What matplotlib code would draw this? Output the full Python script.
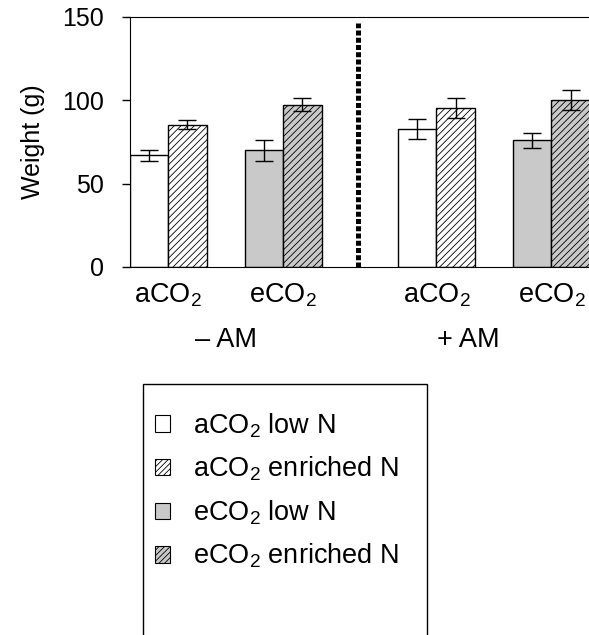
import matplotlib
matplotlib.use('Agg')
import matplotlib.pyplot as plt
import matplotlib as mpl
import matplotlib.transforms as mtransforms
from matplotlib.patches import Patch, Rectangle
import numpy as np

# data
groups = ['aCO$_2$', 'eCO$_2$', 'aCO$_2$', 'eCO$_2$']
am_labels = ['\u2013 AM', '+ AM']
low_n = [67, 70, 83, 76]
low_n_err = [3.5, 6.5, 6, 4.5]
enriched_n = [85.5, 97.5, 95.5, 100.5]
enriched_n_err = [2.5, 4, 6, 6]
series_labels = ['aCO$_2$ low N', 'aCO$_2$ enriched N',
                 'eCO$_2$ low N', 'eCO$_2$ enriched N']

grey = '#c9c9c9'


def main():

    mpl.rcParams['font.family'] = ['Liberation Sans', 'DejaVu Sans']
    mpl.rcParams['mathtext.fontset'] = 'custom'
    mpl.rcParams['mathtext.rm'] = 'Liberation Sans'
    mpl.rcParams['mathtext.default'] = 'regular'
    mpl.rcParams['font.size'] = 19.5
    mpl.rcParams['hatch.linewidth'] = 0.6

    fig = plt.figure(figsize=(5.89, 6.35), dpi=100)
    ax = fig.add_axes([130/589, 1-267/635, 0.813, 250/635])

    centers = np.array([0, 3, 7, 10])
    face_low = ['white', grey, 'white', grey]
    face_enr = ['white', grey, 'white', grey]

    ekw = dict(elinewidth=1.0, capthick=1.0, ecolor='black')
    ax.bar(centers - 0.5, low_n, width=1, color=face_low, edgecolor='black',
           lw=1.0, yerr=low_n_err, capsize=6.5, error_kw=ekw)
    ax.bar(centers + 0.5, enriched_n, width=1, color=face_enr,
           edgecolor='black', lw=1.0, hatch='/////',
           yerr=enriched_n_err, capsize=6.5, error_kw=ekw)

    ax.axvline(4.94, ymin=0, ymax=0.975, color='black', lw=3.6,
               linestyle=(0, (1, 0.45)), dash_capstyle='butt')

    ax.set_xlim(-1, 11.5)
    ax.set_ylim(0, 150)
    ax.set_yticks([0, 50, 100, 150])
    ax.tick_params(axis='y', length=6, pad=13, width=1, labelsize=18)
    ax.tick_params(axis='x', length=0, bottom=False, labelbottom=False)
    ax.spines['right'].set_visible(False)
    ax.set_ylabel('Weight (g)', labelpad=12, fontsize=18)

    trans = mtransforms.blended_transform_factory(ax.transData, fig.transFigure)
    for c, g in zip(centers, groups):
        ax.text(c, 1-295/635, g, ha='center', va='center', transform=trans)
    for xpos, lab in zip([1.51, 7.83], am_labels):
        ax.text(xpos, 1-340/635, lab, ha='center', va='center', transform=trans)

    # legend box runs off the bottom of the page
    fig.add_artist(Rectangle((143/589, -0.1), (427-143)/589, 0.1+1-384/635,
                             transform=fig.transFigure, fill=False,
                             lw=1.0, edgecolor='black'))
    handles = [
        Patch(facecolor='white', edgecolor='black', lw=0.8),
        Patch(facecolor='white', edgecolor='black', lw=0.8, hatch='//////'),
        Patch(facecolor=grey, edgecolor='black', lw=0.8),
        Patch(facecolor=grey, edgecolor='black', lw=0.8, hatch='//////'),
    ]
    fig.legend(handles, series_labels, loc='upper left',
               bbox_to_anchor=(155/589, 1-411/635), frameon=False,
               handlelength=0.55, handleheight=0.55, handletextpad=0.85,
               labelspacing=0.56, borderpad=0, borderaxespad=0)

    fig.savefig('out.png', dpi=100)


main()
